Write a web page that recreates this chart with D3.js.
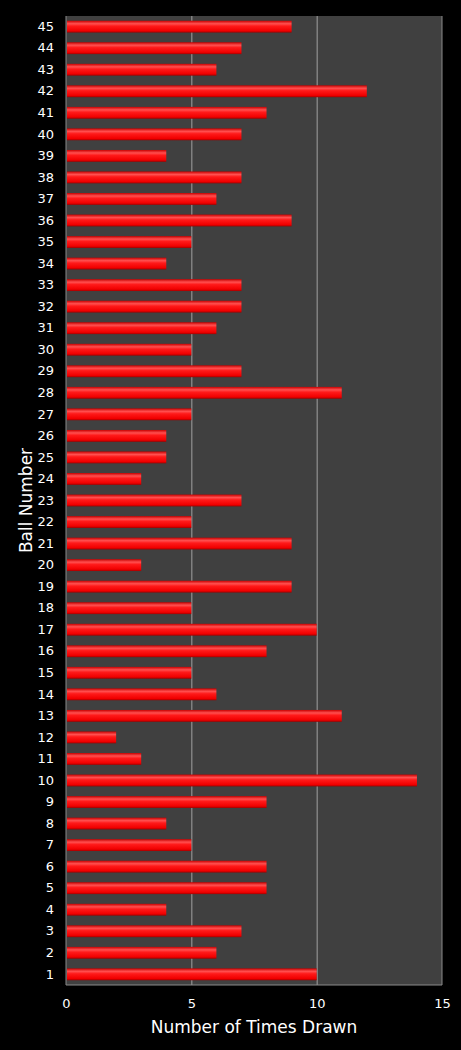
<!DOCTYPE html>
<html>
<head>
<meta charset="utf-8">
<script src="https://cdn.jsdelivr.net/npm/d3@7"></script>
<style>
  html, body { margin: 0; padding: 0; background: #000; }
  svg { display: block; }
</style>
</head>
<body>
<svg id="chart"></svg>
<script>
// Ball numbers 1..45 and how often each was drawn
const balls = ['1','2','3','4','5','6','7','8','9','10','11','12','13','14','15','16','17','18','19','20',
  '21','22','23','24','25','26','27','28','29','30','31','32','33','34','35','36','37','38','39','40',
  '41','42','43','44','45'];
const timesDrawn = [10, 6, 7, 4, 8, 8, 5, 4, 8, 14, 3, 2, 11, 6, 5, 8, 10, 5, 9, 3,
  9, 5, 7, 3, 4, 4, 5, 11, 7, 5, 6, 7, 7, 4, 5, 9, 6, 7, 4, 7,
  8, 12, 6, 7, 9];
const xTicks = [0, 5, 10, 15];

const data = balls.map((b, i) => ({ ball: b, count: timesDrawn[i] }));

const totalWidth = 461, totalHeight = 1050;
const margin = { top: 16, right: 19, bottom: 65, left: 66 };
const width = totalWidth - margin.left - margin.right;
const height = totalHeight - margin.top - margin.bottom;
const font = '"DejaVu Sans", Verdana, sans-serif';

const root = d3.select('#chart')
  .attr('width', totalWidth)
  .attr('height', totalHeight);

// bar gradient: bright top highlight, dark bottom edge
const defs = root.append('defs');
const grad = defs.append('linearGradient')
  .attr('id', 'barGrad')
  .attr('x1', 0).attr('y1', 0).attr('x2', 0).attr('y2', 1);
grad.append('stop').attr('offset', '0%').attr('stop-color', '#c80000');
grad.append('stop').attr('offset', '25%').attr('stop-color', '#ff5050');
grad.append('stop').attr('offset', '45%').attr('stop-color', '#ff1a1a');
grad.append('stop').attr('offset', '85%').attr('stop-color', '#f00000');
grad.append('stop').attr('offset', '100%').attr('stop-color', '#a00000');

const svg = root.append('g')
  .attr('transform', `translate(${margin.left},${margin.top})`);

const x = d3.scaleLinear().domain([0, 15]).range([0, width]);
const y = d3.scaleBand()
  .domain(balls.slice().reverse())
  .range([0, height])
  .paddingInner(0.45)
  .paddingOuter(0.22);

// plot background
svg.append('rect')
  .attr('width', width)
  .attr('height', height)
  .attr('fill', '#404040');

// vertical grid lines
svg.append('g')
  .call(d3.axisBottom(x).tickValues(xTicks.slice(1, -1)).tickSize(height).tickFormat(''))
  .call(g => g.select('.domain').remove())
  .selectAll('.tick line')
  .attr('stroke', '#a0a0a0')
  .attr('stroke-width', 1);

// plot border (left, bottom, right)
svg.append('path')
  .attr('d', `M0,0V${height}H${width}V0`)
  .attr('fill', 'none')
  .attr('stroke', '#8a8a8a')
  .attr('stroke-width', 1);

// bars
svg.selectAll('.bar')
  .data(data)
  .enter()
  .append('rect')
  .attr('class', 'bar')
  .attr('x', 1)
  .attr('y', d => y(d.ball))
  .attr('width', d => x(d.count) - 1)
  .attr('height', y.bandwidth())
  .attr('fill', 'url(#barGrad)');

// x axis
svg.append('g')
  .attr('transform', `translate(0,${height})`)
  .call(d3.axisBottom(x).tickValues(xTicks).tickSize(0).tickPadding(14))
  .call(g => g.select('.domain').remove())
  .selectAll('text')
  .attr('fill', '#fff')
  .attr('font-size', '13px')
  .attr('font-family', font);

// y axis
svg.append('g')
  .call(d3.axisLeft(y).tickSize(0).tickPadding(12))
  .call(g => g.select('.domain').remove())
  .selectAll('text')
  .attr('fill', '#fff')
  .attr('font-size', '13px')
  .attr('font-family', font);

// axis titles
root.append('text')
  .attr('x', margin.left + width / 2)
  .attr('y', 1033)
  .attr('text-anchor', 'middle')
  .attr('fill', '#fff')
  .attr('font-size', '17px')
  .attr('font-family', font)
  .text('Number of Times Drawn');

root.append('text')
  .attr('transform', `translate(32,${margin.top + height / 2}) rotate(-90)`)
  .attr('text-anchor', 'middle')
  .attr('fill', '#fff')
  .attr('font-size', '17px')
  .attr('font-family', font)
  .text('Ball Number');
</script>
</body>
</html>
